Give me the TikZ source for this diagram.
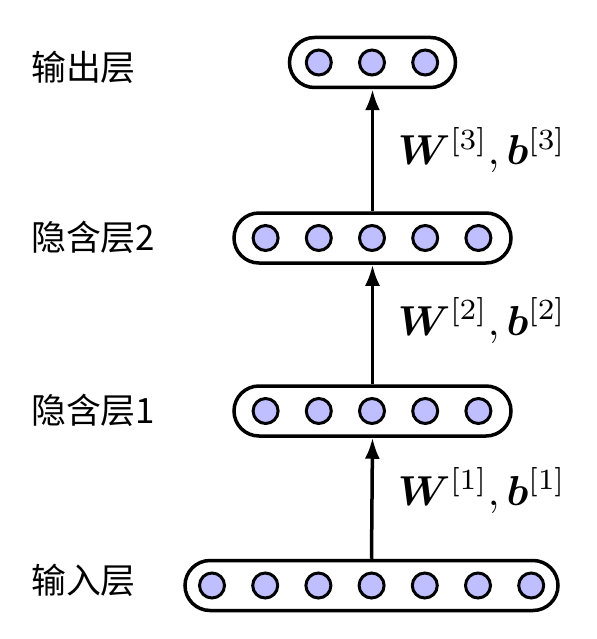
\documentclass[tikz,border=0pt]{standalone}
\usepackage{amsmath,bm}
\usepackage{fontspec}
\newfontfamily\cjk{Noto Sans CJK SC}
\usetikzlibrary{arrows.meta}
\begin{document}
\begin{tikzpicture}[x=1bp,y=-1bp,
  neuron/.style={circle,draw=black,line width=3bp,fill=blue!25,minimum size=25bp,inner sep=0pt},
  layerbox/.style={draw=black,line width=3.5bp,rounded corners=25bp,minimum height=50bp,inner sep=0pt},
  layerlabel/.style={anchor=base west,inner sep=0pt,font=\cjk\fontsize{35}{40}\selectfont},
  weightlabel/.style={anchor=base west,inner sep=0pt,scale=4.2,font=\fontsize{10}{12}\selectfont},
  conn/.style={line width=3.5bp,-{Latex[length=21bp,width=15bp]}}]
\useasboundingbox (0,0) rectangle (597,639);
% layer boxes
\node[layerbox,minimum width=373bp] (L0) at (371.5,585.5) {};
\node[layerbox,minimum width=277bp] (L1) at (372.5,411) {};
\node[layerbox,minimum width=277bp] (L2) at (372.5,238) {};
\node[layerbox,minimum width=166bp] (L3) at (372.5,62.5) {};
% neurons
\foreach \i in {0,...,6} \node[neuron] (a\i) at ({212+53.2*\i},585.5) {};
\foreach \i in {0,...,4} \node[neuron] (b\i) at ({265.6+53.2*\i},411) {};
\foreach \i in {0,...,4} \node[neuron] (c\i) at ({265.6+53.2*\i},238) {};
\foreach \i in {0,...,2} \node[neuron] (d\i) at ({318.8+53.2*\i},62.5) {};
% connectors
\draw[conn] (L0.north) -- (L1.south);
\draw[conn] (L1.north) -- (L2.south);
\draw[conn] (L2.north) -- (L3.south);
% weight labels
\node[weightlabel] (w1) at (397,505) {$\bm{W}^{[1]},\bm{b}^{[1]}$};
\node[weightlabel] (w2) at (397,335) {$\bm{W}^{[2]},\bm{b}^{[2]}$};
\node[weightlabel] (w3) at (397,165) {$\bm{W}^{[3]},\bm{b}^{[3]}$};
% layer labels
\node[layerlabel] (t0) at (31,593) {输入层};
\node[layerlabel] (t1) at (31,423) {隐含层1};
\node[layerlabel] (t2) at (31,250) {隐含层2};
\node[layerlabel] (t3) at (31,81) {输出层};
\end{tikzpicture}
\end{document}
